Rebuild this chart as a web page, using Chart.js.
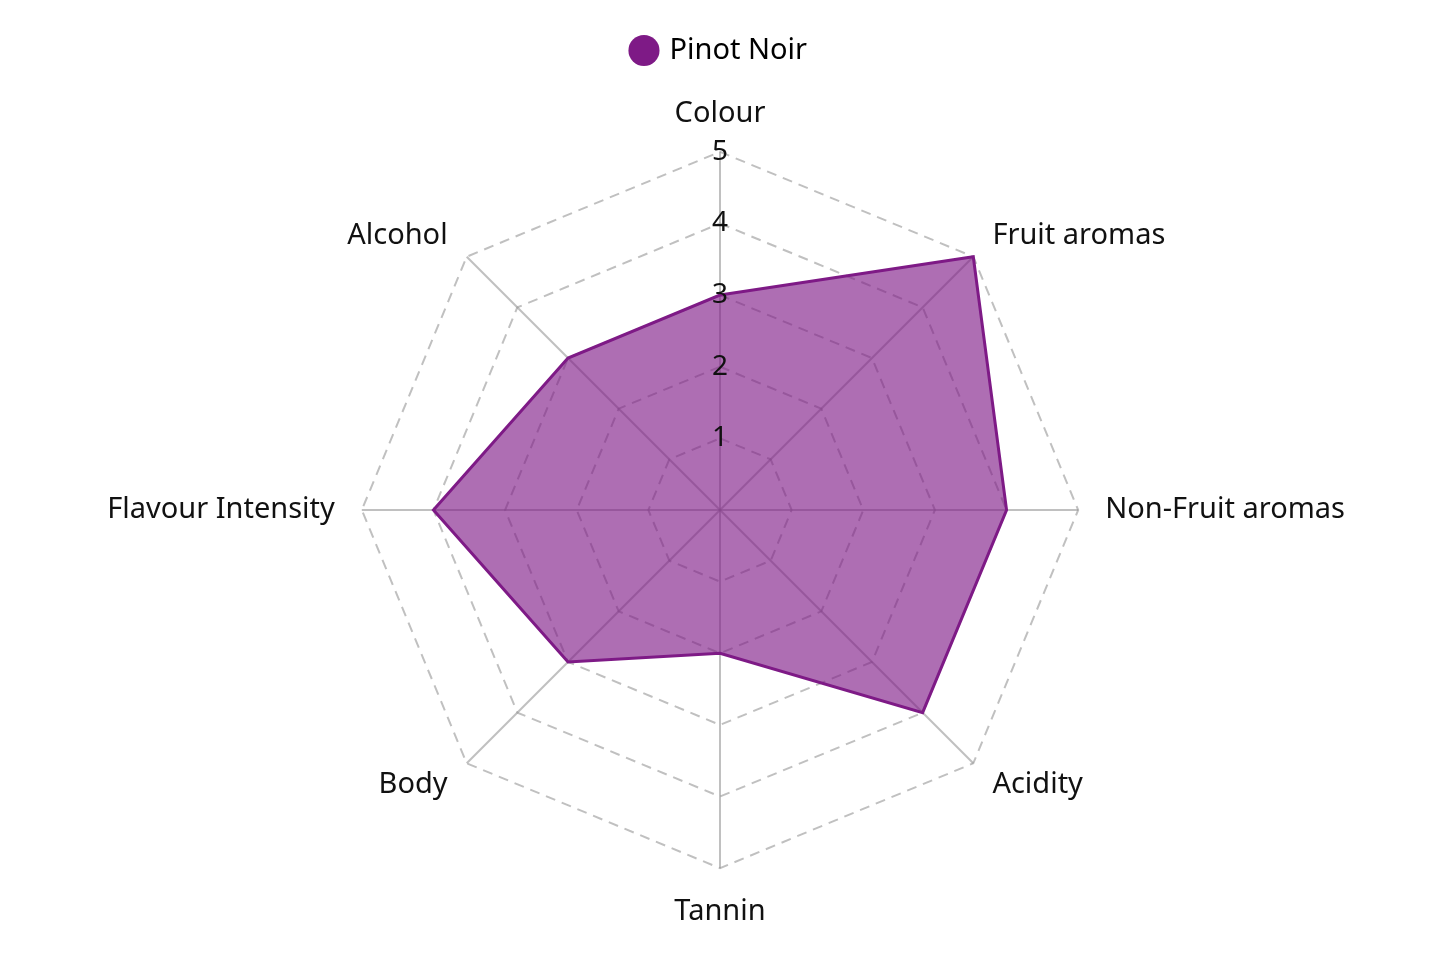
<!DOCTYPE html>
<html>
<head>
<meta charset="utf-8">
<script src="https://cdn.jsdelivr.net/npm/chart.js@4/dist/chart.umd.min.js"></script>
<style>
  html, body { margin: 0; padding: 0; background: #fff; }
  #wrap { width: 1452px; height: 962px; }
</style>
</head>
<body>
<div id="wrap"><canvas id="chart"></canvas></div>
<script>
// Axes of the wine profile, clockwise from the top
const categories = ["Colour", "Fruit aromas", "Non-Fruit aromas", "Acidity", "Tannin", "Body", "Flavour Intensity", "Alcohol"]
const seriesName = "Pinot Noir"
const pinotNoir = [3, 5, 4, 4, 2, 3, 4, 3]
const tickValues = [0, 1, 2, 3, 4, 5]

const purple = "rgb(126, 26, 134)"
const fontFamily = "Noto Sans"

// Extra room between the legend and the radar
const legendSpacer = {
    id: "legendSpacer",
    beforeInit(chart) {
        const fit = chart.legend.fit
        chart.legend.fit = function () {
            fit.call(this)
            this.height += 19
        }
    },
}

// Diagonal labels sit nearer their spoke (index 1, 3, 5, 7)
const isDiagonal = (i) => i % 2 === 1
const labelPadding = (ctx) => {
    if (ctx.index === 0) return 5
    if (ctx.index === 4) return 10
    return 11
}

new Chart(document.getElementById("chart"), {
    type: "radar",
    data: {
        labels: categories,
        datasets: [
            {
                label: seriesName,
                data: pinotNoir,
                borderColor: purple,
                backgroundColor: "rgba(126, 26, 134, 0.63)",
                borderWidth: 3,
                pointRadius: 0,
                pointHoverRadius: 0,
                fill: true,
            },
        ],
    },
    plugins: [legendSpacer],
    options: {
        responsive: true,
        maintainAspectRatio: false,
        animation: false,
        layout: { padding: { top: 4, bottom: 30, right: 12 } },
        plugins: {
            legend: {
                position: "top",
                labels: {
                    usePointStyle: true,
                    pointStyle: "circle",
                    boxWidth: 22,
                    boxHeight: 22,
                    padding: 32,
                    color: "#111",
                    font: { family: fontFamily, size: 29 },
                    generateLabels: () => [{
                        text: seriesName,
                        fillStyle: purple,
                        strokeStyle: purple,
                        lineWidth: 0,
                        pointStyle: "circle",
                        datasetIndex: 0,
                    }],
                },
            },
            tooltip: { enabled: false },
        },
        scales: {
            r: {
                min: tickValues[0],
                max: tickValues[tickValues.length - 1],
                afterBuildTicks: (scale) => {
                    scale.ticks = tickValues.map((v) => ({ value: v }))
                },
                ticks: {
                    z: 1,
                    showLabelBackdrop: false,
                    color: "#111",
                    font: { family: fontFamily, size: 28 },
                },
                grid: {
                    color: "rgba(150, 150, 150, 0.6)",
                    lineWidth: 2,
                },
                border: {
                    dash: [10, 7],
                },
                angleLines: {
                    color: "rgba(150, 150, 150, 0.6)",
                    lineWidth: 2,
                },
                pointLabels: {
                    color: "#111",
                    padding: labelPadding,
                    font: (ctx) => ({
                        family: fontFamily,
                        size: 29,
                        lineHeight: isDiagonal(ctx.index) ? 0.15 : 1.2,
                    }),
                },
            },
        },
    },
})
</script>
</body>
</html>
